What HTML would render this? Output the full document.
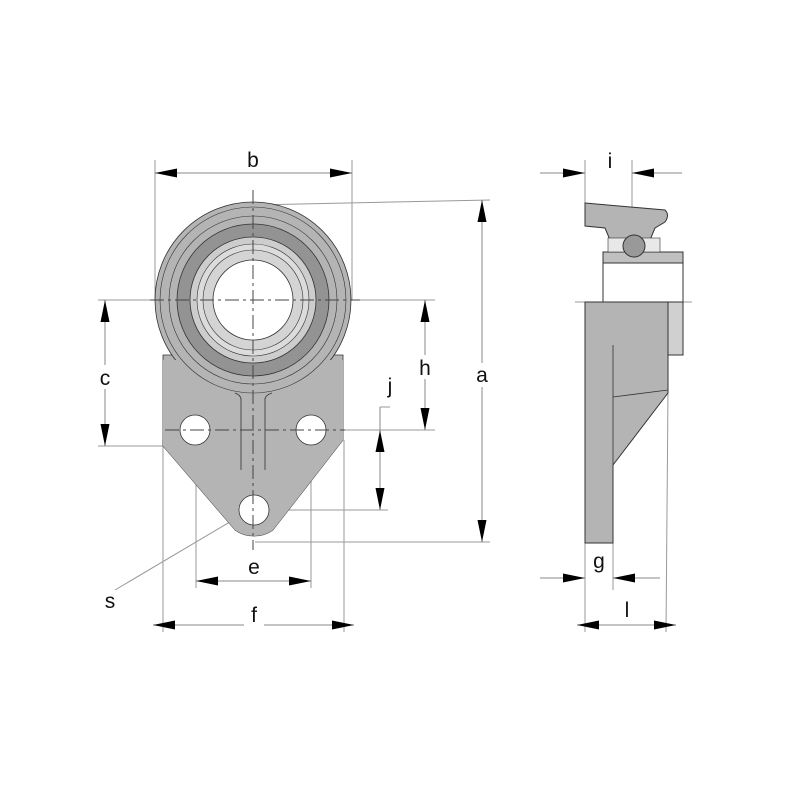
<!DOCTYPE html>
<html><head><meta charset="utf-8"><style>html,body{margin:0;padding:0;background:#fff}svg{display:block}text{font-family:"Liberation Sans",sans-serif;font-size:21px;fill:#111;text-anchor:middle}</style></head>
<body>
<svg width="800" height="800" viewBox="0 0 800 800" xmlns="http://www.w3.org/2000/svg">
<defs>
<marker id="ar" viewBox="0 0 22 9" refX="22" refY="4.5" markerWidth="22" markerHeight="9" markerUnits="userSpaceOnUse" orient="auto"><path d="M0,0 L22,4.5 L0,9 Z" fill="#000"/></marker>
</defs>
<g stroke="#999" stroke-width="1" fill="none">
<line x1="155" y1="160" x2="155" y2="300"/><line x1="352" y1="160" x2="352" y2="300"/>
<line x1="253" y1="205" x2="490" y2="200"/>
<line x1="255" y1="542" x2="490" y2="542"/>
<line x1="98" y1="300" x2="435" y2="300"/>
<line x1="98" y1="446" x2="165" y2="446"/>
<line x1="163" y1="440" x2="163" y2="632"/><line x1="344" y1="440" x2="344" y2="632"/>
<line x1="196" y1="430" x2="196" y2="588"/><line x1="311" y1="430" x2="311" y2="588"/>
<line x1="170" y1="430" x2="435" y2="430"/>
<line x1="230" y1="510" x2="388" y2="510"/>
<line x1="380" y1="407" x2="390" y2="407"/>
<line x1="115" y1="590" x2="272" y2="497"/>
<line x1="585" y1="160" x2="585" y2="205"/><line x1="632" y1="160" x2="632" y2="250"/>
<line x1="585" y1="543" x2="585" y2="632"/><line x1="613" y1="543" x2="613" y2="590"/>
<line x1="668" y1="390" x2="666" y2="632"/>
<line x1="575" y1="302" x2="692" y2="302"/>
</g>
<g stroke="#333" stroke-width="0.8">
<path d="M163,355 L163,446 L235,530 A33,33 0 0 0 273,530 L343,440 L343,355 Z" fill="#b4b4b4"/>
<circle cx="253" cy="300" r="98" fill="#b4b4b4"/>
<path d="M163,360 L163,446 L235,530 A33,33 0 0 0 273,530 L343,440 L343,360" fill="#b4b4b4" stroke="none"/>
<circle cx="253" cy="300" r="93" fill="none" stroke-width="0.6"/>
<circle cx="253" cy="300" r="84" fill="none" stroke-width="0.6"/>
<circle cx="253" cy="300" r="76" fill="#939393"/>
<circle cx="253" cy="300" r="63" fill="#cdcdcd"/>
<circle cx="253" cy="300" r="56" fill="#dcdcdc" stroke-width="0.6"/>
<circle cx="253" cy="300" r="50" fill="#d4d4d4" stroke-width="0.6"/>
<circle cx="253" cy="300" r="40" fill="#fff"/>
<path d="M241,400 Q241,395 235,393 M241,398 L241,470 M265,398 L265,470 M265,400 Q265,395 272,393" fill="none" stroke-width="0.8"/>
<circle cx="195" cy="430" r="15" fill="#fff"/>
<circle cx="311" cy="430" r="15" fill="#fff"/>
<circle cx="254" cy="510" r="15" fill="#fff"/>
</g>
<g stroke="#444" stroke-width="1" stroke-dasharray="14,4,3,4" fill="none">
<line x1="253" y1="190" x2="253" y2="550"/>
<line x1="150" y1="300" x2="360" y2="300"/>
<line x1="165" y1="430" x2="345" y2="430"/>
</g>
<g stroke="#333" stroke-width="1">
<path d="M585,302 L668,302 L668,393 L613,465 L613,543 L585,543 Z" fill="#b4b4b4"/>
<rect x="668" y="302" width="15" height="53" fill="#d0d0d0"/>
<path d="M585,203 L665,210 Q670,215 665,222 L655,228 L650,240 L610,240 L605,228 L585,226 Z" fill="#b4b4b4"/>
<rect x="603" y="252" width="80" height="11" fill="#c0c0c0"/>
<rect x="603" y="263" width="80" height="39" fill="#fff"/>
<rect x="608" y="238" width="52" height="14" fill="#e8e8e8" stroke-width="0.6"/>
<circle cx="634" cy="246" r="11" fill="#999"/>
<line x1="613" y1="345" x2="613" y2="465" stroke-width="0.8"/>
<line x1="613" y1="397" x2="668" y2="390" stroke-width="0.8"/>
</g>
<g stroke="#888" stroke-width="1" fill="none">
<line x1="253" y1="173" x2="155" y2="173" marker-end="url(#ar)"/>
<line x1="253" y1="173" x2="352" y2="173" marker-end="url(#ar)"/>
<line x1="482" y1="375" x2="482" y2="200" marker-end="url(#ar)"/>
<line x1="482" y1="375" x2="482" y2="542" marker-end="url(#ar)"/>
<line x1="105" y1="375" x2="105" y2="300" marker-end="url(#ar)"/>
<line x1="105" y1="375" x2="105" y2="446" marker-end="url(#ar)"/>
<line x1="425" y1="365" x2="425" y2="300" marker-end="url(#ar)"/>
<line x1="425" y1="365" x2="425" y2="430" marker-end="url(#ar)"/>
<line x1="380" y1="470" x2="380" y2="430" marker-end="url(#ar)"/>
<line x1="380" y1="470" x2="380" y2="510" marker-end="url(#ar)"/>
<line x1="380" y1="407" x2="380" y2="430"/>
<line x1="254" y1="581" x2="196" y2="581" marker-end="url(#ar)"/>
<line x1="254" y1="581" x2="311" y2="581" marker-end="url(#ar)"/>
<line x1="254" y1="625" x2="153" y2="625" marker-end="url(#ar)"/>
<line x1="254" y1="625" x2="354" y2="625" marker-end="url(#ar)"/>
<line x1="540" y1="173" x2="585" y2="173" marker-end="url(#ar)"/>
<line x1="682" y1="173" x2="632" y2="173" marker-end="url(#ar)"/>
<line x1="540" y1="578" x2="585" y2="578" marker-end="url(#ar)"/>
<line x1="660" y1="578" x2="613" y2="578" marker-end="url(#ar)"/>
<line x1="627" y1="625" x2="577" y2="625" marker-end="url(#ar)"/>
<line x1="627" y1="625" x2="676" y2="625" marker-end="url(#ar)"/>
</g>
<g>
<rect x="243" y="150" width="20" height="22" fill="#fff"/>
<text x="253" y="167">b</text>
<rect x="472" y="363" width="20" height="24" fill="#fff"/>
<text x="482" y="382">a</text>
<rect x="95" y="365" width="20" height="24" fill="#fff"/>
<text x="105" y="385">c</text>
<rect x="415" y="355" width="20" height="24" fill="#fff"/>
<text x="425" y="375">h</text>
<text x="390" y="393">j</text>
<text x="254" y="574">e</text>
<rect x="244" y="605" width="20" height="24" fill="#fff"/>
<text x="254" y="622">f</text>
<text x="110" y="608">s</text>
<text x="610" y="168">i</text>
<text x="599" y="568">g</text>
<rect x="617" y="600" width="20" height="24" fill="#fff"/>
<text x="627" y="617">l</text>
</g>
</svg>
</body></html>
